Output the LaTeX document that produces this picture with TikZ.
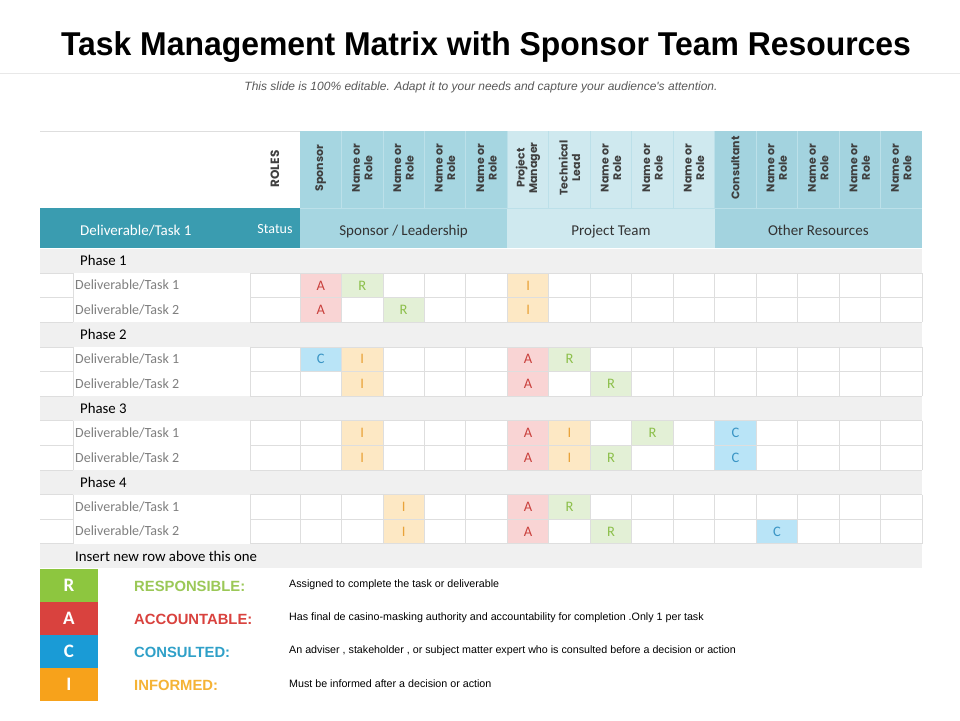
\documentclass[tikz,border=0pt]{standalone}
\usepackage{fontspec}
\setmainfont{Carlito}
\newfontfamily\arialf{Liberation Sans}
\newfontfamily\gothicf{Poppins}
\definecolor{hdrdark}{HTML}{3A9CB0}
\definecolor{grpA}{HTML}{A6D6E1}
\definecolor{grpB}{HTML}{CFE9EF}
\definecolor{grpC}{HTML}{A3D3DF}
\definecolor{sepc}{HTML}{BCE0E9}
\definecolor{gridc}{HTML}{DEDEDE}
\definecolor{phasec}{HTML}{F0F0F0}
\definecolor{roletext}{HTML}{3F3F3F}
\definecolor{tasktext}{HTML}{7F7F7F}
\definecolor{cellA}{HTML}{F9D4D4}
\definecolor{cellR}{HTML}{E3F0D6}
\definecolor{cellI}{HTML}{FDE8C4}
\definecolor{cellC}{HTML}{B9E4F7}
\definecolor{txtA}{HTML}{C9403C}
\definecolor{txtR}{HTML}{8CBF4A}
\definecolor{txtI}{HTML}{E9A33A}
\definecolor{txtC}{HTML}{3A95C5}
\definecolor{legR}{HTML}{8DC63F}
\definecolor{legA}{HTML}{D9423E}
\definecolor{legC}{HTML}{1A9BD6}
\definecolor{legI}{HTML}{F7A21B}
\definecolor{labR}{HTML}{9BC857}
\definecolor{labA}{HTML}{D9423E}
\definecolor{labC}{HTML}{2FA0C8}
\definecolor{labI}{HTML}{F5B335}
\begin{document}
\begin{tikzpicture}[x=1pt,y=-1pt,
  titlestyle/.style={font=\arialf\bfseries\fontsize{33}{36}\selectfont, text=black, inner sep=0pt},
  substyle/.style={font=\arialf\itshape\fontsize{12}{14}\selectfont, text=black!65, inner sep=0pt},
  rolelab/.style={rotate=90, align=center, inner sep=0pt, text=roletext,
    font=\gothicf\bfseries\fontsize{11}{12.5}\selectfont},
  cattext/.style={anchor=base, font=\fontsize{15}{17}\selectfont, text=black!80, inner sep=0pt},
  phasetext/.style={anchor=west, font=\fontsize{14.8}{16}\selectfont, text=black, inner sep=0pt},
  tasktextst/.style={anchor=west, font=\fontsize{14}{16}\selectfont, text=tasktext, inner sep=0pt},
  lettertext/.style={font=\fontsize{14.5}{16}\selectfont, inner sep=0pt},
  legbox/.style={minimum width=58pt, minimum height=33pt, inner sep=0pt, text=white,
    font=\bfseries\fontsize{19}{21}\selectfont},
  leglab/.style={anchor=west, inner sep=0pt, font=\arialf\bfseries\fontsize{14.8}{16}\selectfont},
  legdesc/.style={anchor=west, inner sep=0pt, text=black, font=\arialf\fontsize{10.7}{12}\selectfont},
  gridline/.style={draw=gridc, line width=0.8pt}
]
\useasboundingbox[fill=white] (0,0) rectangle (960,720);

% title
\node[titlestyle] (title) at (486,47) {\scalebox{0.967}[1]{Task Management Matrix with Sponsor Team Resources}};
\draw[draw=black!9, line width=1pt] (0,73) -- (960,73);
\node[substyle] (subtitle) at (481,87) {This slide is 100\% editable. Adapt it to your needs and capture your audience's attention.};

% header row 1
\def\cw{41.467}
\fill[grpA] (300,131) rectangle (507.3,208);
\fill[grpB] (507.3,131) rectangle (714.7,208);
\fill[grpC] (714.7,131) rectangle (922,208);
\foreach \k in {1,...,14} {
  \draw[sepc, line width=0.8pt] ({300+\k*\cw},131) -- ({300+\k*\cw},208);
}
\draw[gridline] (40,131) -- (300,131);
\node[rolelab, font=\gothicf\bfseries\fontsize{12}{14}\selectfont] (roles) at (275,169) {ROLES};
\foreach \lab [count=\i] in {Sponsor, Name or\\Role, Name or\\Role, Name or\\Role, Name or\\Role,
  Project\\Manager, Technical\\Lead, Name or\\Role, Name or\\Role, Name or\\Role,
  Consultant, Name or\\Role, Name or\\Role, Name or\\Role, Name or\\Role} {
  \node[rolelab] (role\i) at ({300+(\i-0.5)*\cw},168) {\lab};
}

% header row 2
\fill[hdrdark] (40,208) rectangle (300,248);
\fill[grpA] (300,208) rectangle (507.3,248);
\fill[grpB] (507.3,208) rectangle (714.7,248);
\fill[grpC] (714.7,208) rectangle (922,248);
\draw[sepc, line width=0.8pt] (300,208) -- (922,208);
\node[anchor=base west, inner sep=0pt, text=white, font=\fontsize{15}{17}\selectfont] (hdrtask) at (80,235) {Deliverable/Task 1};
\node[anchor=base, inner sep=0pt, text=white, font=\fontsize{14}{16}\selectfont] (hdrstatus) at (275,233.5) {Status};
\node[cattext] (catA) at (403.6,235) {Sponsor / Leadership};
\node[cattext] (catB) at (611,235) {Project Team};
\node[cattext] (catC) at (818.3,235) {Other Resources};

% body rows
\def\rp{24.6}
\def\ry{248.5}
% phase rows
\foreach \r in {0,3,6,9,12} {
  \fill[phasec] (40,{\ry+\r*\rp}) rectangle (922,{\ry+(\r+1)*\rp});
}
\foreach \r/\t [count=\n] in {0/Phase 1, 3/Phase 2, 6/Phase 3, 9/Phase 4} {
  \node[phasetext] (phase\n) at (80,{\ry+(\r+0.5)*\rp}) {\t};
}
\node[phasetext] (insertrow) at (75,{\ry+12.5*\rp}) {Insert new row above this one};

% coloured cells
\foreach \r/\c/\l in {1/1/A, 1/2/R, 1/6/I,
  2/1/A, 2/3/R, 2/6/I,
  4/1/C, 4/2/I, 4/6/A, 4/7/R,
  5/2/I, 5/6/A, 5/8/R,
  7/2/I, 7/6/A, 7/7/I, 7/9/R, 7/11/C,
  8/2/I, 8/6/A, 8/7/I, 8/8/R, 8/11/C,
  10/3/I, 10/6/A, 10/7/R,
  11/3/I, 11/6/A, 11/8/R, 11/12/C} {
  \fill[cell\l] ({300+(\c-1)*\cw},{\ry+\r*\rp}) rectangle ({300+\c*\cw},{\ry+(\r+1)*\rp});
  \node[lettertext, text=txt\l] (cell\r-\c) at ({300+(\c-0.5)*\cw},{\ry+(\r+0.5)*\rp}) {\l};
}

% task rows grid and labels
\foreach \r/\t in {1/1, 2/2, 4/1, 5/2, 7/1, 8/2, 10/1, 11/2} {
  \pgfmathsetmacro{\ya}{\ry+\r*\rp}
  \pgfmathsetmacro{\yb}{\ry+(\r+1)*\rp}
  \draw[gridline] (40,\ya) -- (73,\ya) (40,\yb) -- (73,\yb);
  \draw[gridline] (250,\ya) -- (922,\ya) (250,\yb) -- (922,\yb);
  \draw[gridline] (73,\ya) -- (73,\yb) (250,\ya) -- (250,\yb);
  \foreach \k in {0,...,15} {
    \draw[gridline] ({300+\k*\cw},\ya) -- ({300+\k*\cw},\yb);
  }
  \node[tasktextst] (task\r) at (75,{\ry+(\r+0.5)*\rp}) {Deliverable/Task \t};
}

% legend
\node[legbox, fill=legR] (legboxR) at (69,585.5) {R};
\node[legbox, fill=legA] (legboxA) at (69,618.5) {A};
\node[legbox, fill=legC] (legboxC) at (69,651.5) {C};
\node[legbox, fill=legI] (legboxI) at (69,684.5) {I};
\node[leglab, text=labR] (leglabR) at (134,586) {RESPONSIBLE:};
\node[leglab, text=labA] (leglabA) at (134,619) {ACCOUNTABLE:};
\node[leglab, text=labC] (leglabC) at (134,652) {CONSULTED:};
\node[leglab, text=labI] (leglabI) at (134,685) {INFORMED:};
\node[legdesc] (descR) at (289,585) {Assigned to complete the task or deliverable};
\node[legdesc] (descA) at (289,618) {Has final de casino-masking authority and accountability for completion .Only 1 per task};
\node[legdesc] (descC) at (289,651) {An adviser , stakeholder , or subject matter expert who is consulted before a decision or action};
\node[legdesc] (descI) at (289,684) {Must be informed after a decision or action};
\end{tikzpicture}
\end{document}
